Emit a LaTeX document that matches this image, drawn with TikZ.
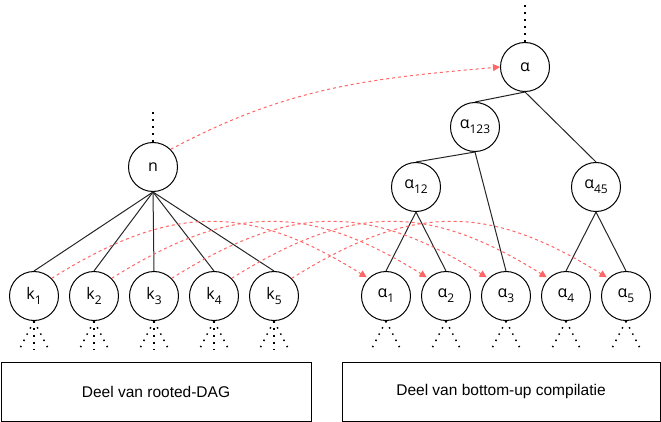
\documentclass[tikz,border=0pt]{standalone}
\usepackage{fontspec}
\setmainfont{Liberation Sans}
\newfontfamily\labfont{Open Sans}
\usetikzlibrary{arrows.meta}
\newcommand\sbs[1]{\raisebox{-5pt}{\fontsize{12}{12}\selectfont #1}}
\tikzset{
  cnode/.style={circle, draw, line width=1pt, minimum size=49pt, inner sep=0pt, font=\labfont\fontsize{16}{16}\selectfont},
  tree/.style={line width=1pt, draw=black!85},
  dots/.style={line width=1.5pt, dash pattern=on 1.5pt off 5.5pt},
  redarr/.style={draw={rgb,255:red,255;green,102;blue,102}, line width=1pt, dash pattern=on 3pt off 3pt,
     -{Triangle[length=7pt,width=7pt,fill={rgb,255:red,255;green,102;blue,102}]}},
  box/.style={draw, line width=1pt, minimum height=59pt, inner sep=0pt, font=\fontsize{15.5}{16}\selectfont}
}
\begin{document}
\begin{tikzpicture}[x=1pt,y=1pt]
\useasboundingbox (0,0) rectangle (661,-422);
% left part
\node[cnode] (n) at (153,-167) {n};
\foreach \i in {1,...,5} {
  \node[cnode] (k\i) at ({34+60*(\i-1)},-296) {k\sbs{\i}};
}
% right part
\node[cnode] (a) at (525,-67) {α};
\node[cnode] (a123) at (475,-127) {α\sbs{123}};
\node[cnode] (a12) at (416,-187) {α\sbs{12}};
\node[cnode] (a45) at (596,-187) {α\sbs{45}};
\foreach \i in {1,...,5} {
  \node[cnode] (a\i) at ({386+60*(\i-1)},-296) {α\sbs{\i}};
}
% boxes
\node[box, minimum width=310pt] (bl) at (156,-391.5) {Deel van rooted-DAG};
\node[box, minimum width=318pt] (br) at (501,-391.5) {Deel van bottom-up compilatie};
% tree edges
\foreach \i in {1,...,5} { \draw[tree] (n.south) -- (k\i.north); }
\draw[tree] (a.south) -- (a123.north);
\draw[tree] (a.south) -- (a45.north);
\draw[tree] (a123.south) -- (a12.north);
\draw[tree] (a123.south) -- (a3.north);
\draw[tree] (a12.south) -- (a1.north);
\draw[tree] (a12.south) -- (a2.north);
\draw[tree] (a45.south) -- (a4.north);
\draw[tree] (a45.south) -- (a5.north);
% dotted continuations
\coordinate (ntop) at (153,-107);
\coordinate (atop) at (525,0);
\draw[dots] (n.north) -- (ntop);
\draw[dots] (a.north) -- (atop);
\foreach \i in {1,...,5} {
  \draw[dots] (k\i.south) -- ++(-15,-29);
  \draw[dots] (k\i.south) -- ++(0,-29);
  \draw[dots] (k\i.south) -- ++(15,-29);
  \draw[dots] (a\i.south) -- ++(-15,-29);
  \draw[dots] (a\i.south) -- ++(15,-29);
}
% red dashed mappings
\foreach \i in {1,...,5} {
  \draw[redarr, shorten >=2pt] (k\i.45) to[out=32,in=148,looseness=1.15] (a\i.135);
}
\draw[redarr] (n.45) to[out=28,in=185] (a.west);
\end{tikzpicture}
\end{document}
